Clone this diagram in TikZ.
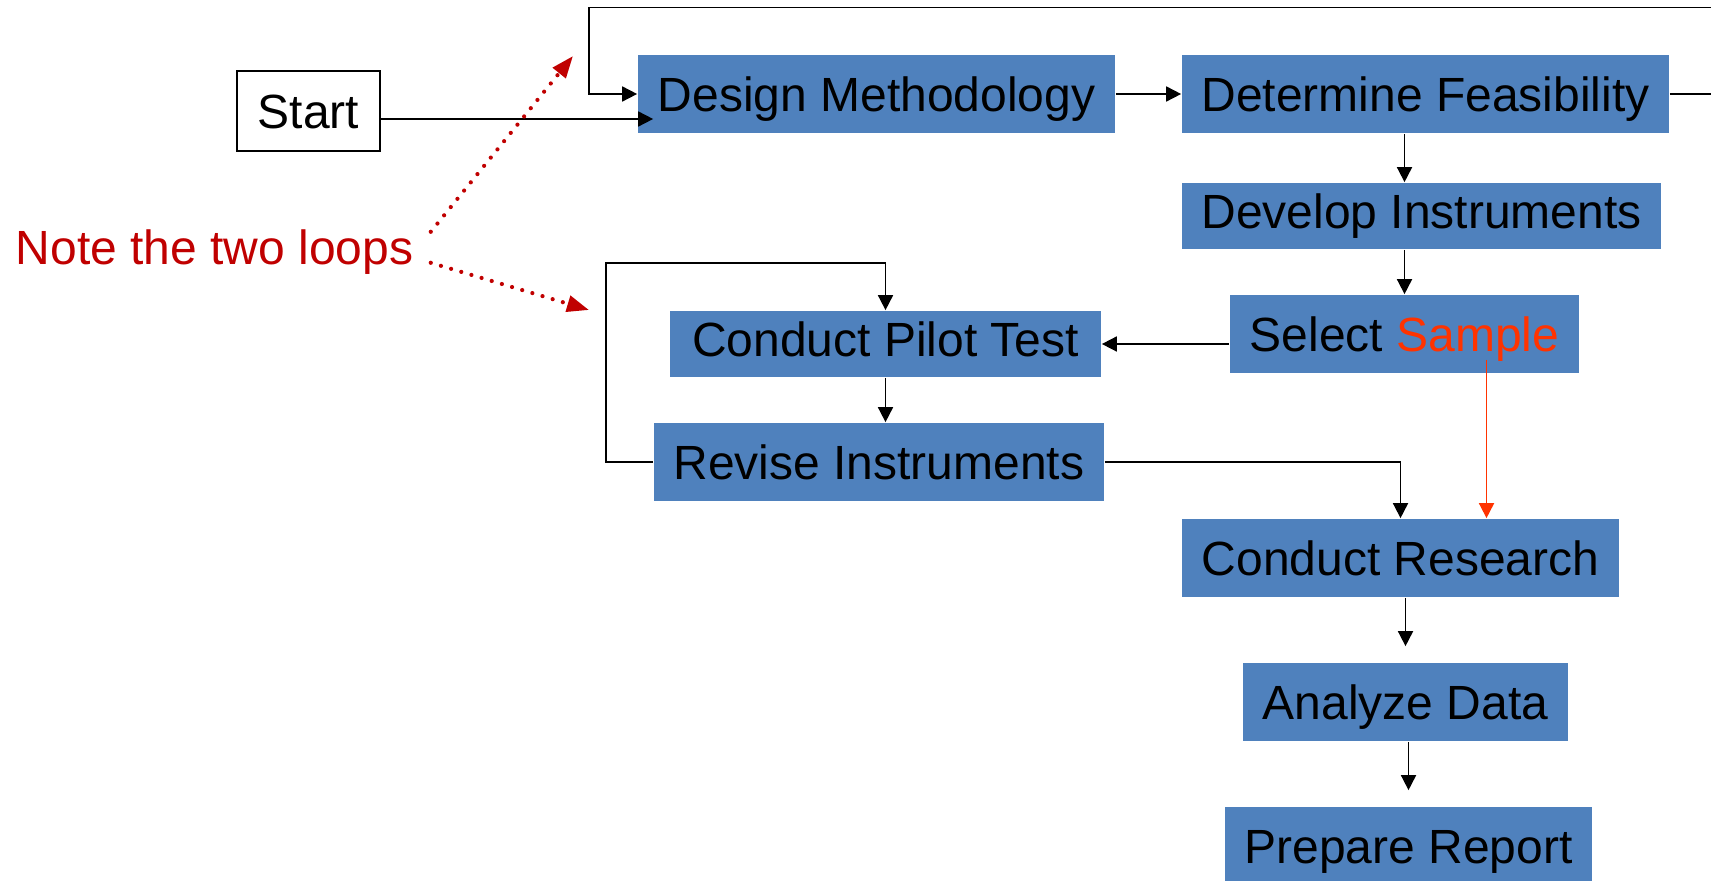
\documentclass[tikz,border=0pt]{standalone}
\usepackage{fontspec}
\setmainfont{Liberation Sans}
\usetikzlibrary{arrows.meta}

\definecolor{stepblue}{HTML}{4F81BD}
\definecolor{notered}{HTML}{C00000}
\definecolor{samplered}{HTML}{FF3300}

\tikzset{every picture/.style={line width=0.85pt}}
\tikzset{
  box/.style={fill=stepblue, draw=none, inner sep=0pt, minimum height=39pt,
    text height=17.2pt, text depth=0pt, font=\fontsize{24}{28}\selectfont},
  short box/.style={box, minimum height=33pt, text depth=5pt},
  start box/.style={box, fill=white, draw=black, line width=1pt},
  conn/.style={-{Triangle[length=7.5pt,width=7.5pt]}},
  sample conn/.style={conn, color=samplered},
  note/.style={text=notered, inner sep=0pt, font=\fontsize{24}{28}\selectfont},
  note arrow/.style={draw=notered, line width=2.1pt, line cap=round,
    dash pattern=on 0pt off 5.3pt, -{Triangle[length=11pt,width=8pt]}}
}

\begin{document}
\begin{tikzpicture}[x=0.5pt,y=0.5pt,yscale=-1]
\useasboundingbox (0,0) rectangle (1711,881);
\clip (0,0) rectangle (1711,881);

% Shapes: boxes
\node [start box, minimum width=71.5pt, minimum height=40pt] (start) at (308.5,111) {Start};
\node [box, minimum width=238.5pt] (dm) at (876.5,94) {Design Methodology};
\node [box, minimum width=243.5pt] (df) at (1425.5,94) {Determine Feasibility};
\node [short box, minimum width=239.5pt] (di) at (1421.5,216) {Develop Instruments};
\node [box, minimum width=174.5pt] (ss) at (1404.5,334) {Select {\color{samplered}Sample}};
\node [short box, minimum width=215.5pt] (cpt) at (885.5,344) {Conduct Pilot Test};
\node [box, minimum width=225pt] (ri) at (879,462) {Revise Instruments};
\node [box, minimum width=218.5pt] (cr) at (1400.5,558) {Conduct Research};
\node [box, minimum width=162.5pt] (ad) at (1405.5,702) {Analyze Data};
\node [box, minimum width=183.5pt] (pr) at (1408.5,846) {Prepare Report};

% Text Node
\node [note, anchor=base west] (note) at (15,265) {Note the two loops};

% Coordinates (yshift runs downward here, since yscale=-1)
\coordinate (startIn) at ([xshift=8pt,yshift=12.5pt]dm.west);
\coordinate (loopTopR) at (1740,7.5);
\coordinate (loopTopL) at (589,7.5);
\coordinate (pilotLoop) at (606,263);
\coordinate (sampleOut) at ([xshift=41pt,yshift=13pt]ss.center);
\coordinate (loopTipA) at (573,56);
\coordinate (loopTipB) at (589,310);

% Straight Lines
\draw [conn] (start.east |- startIn) -- (startIn);
\draw [conn] (dm.east) -- (df.west);
\draw [conn] (df.east) -| (loopTopR) -- (loopTopL) |- (dm.west);
\draw [conn] (df.south -| ss.north) -- (di.north -| ss.north);
\draw [conn] (di.south -| ss.north) -- (ss.north);
\draw [conn] (ss.west |- cpt.east) -- (cpt.east);
\draw [conn] (cpt.south) -- (cpt.south |- ri.north);
\draw [conn] (ri.west) -| (pilotLoop) -| (cpt.north);
\draw [conn] (ri.east) -| (cr.north);
\draw [sample conn] (sampleOut) -- (sampleOut |- cr.north);
\draw [conn] (cr.south -| ad.north) -- ([yshift=-8pt]ad.north);
\draw [conn] (ad.south -| pr.north) -- ([yshift=-8pt]pr.north);

% Dotted arrows
\draw [note arrow] ([xshift=8.25pt,yshift=-10.4pt]note.east) -- (loopTipA);
\draw [note arrow] ([xshift=8.25pt,yshift=5.1pt]note.east) -- (loopTipB);

\end{tikzpicture}
\end{document}
